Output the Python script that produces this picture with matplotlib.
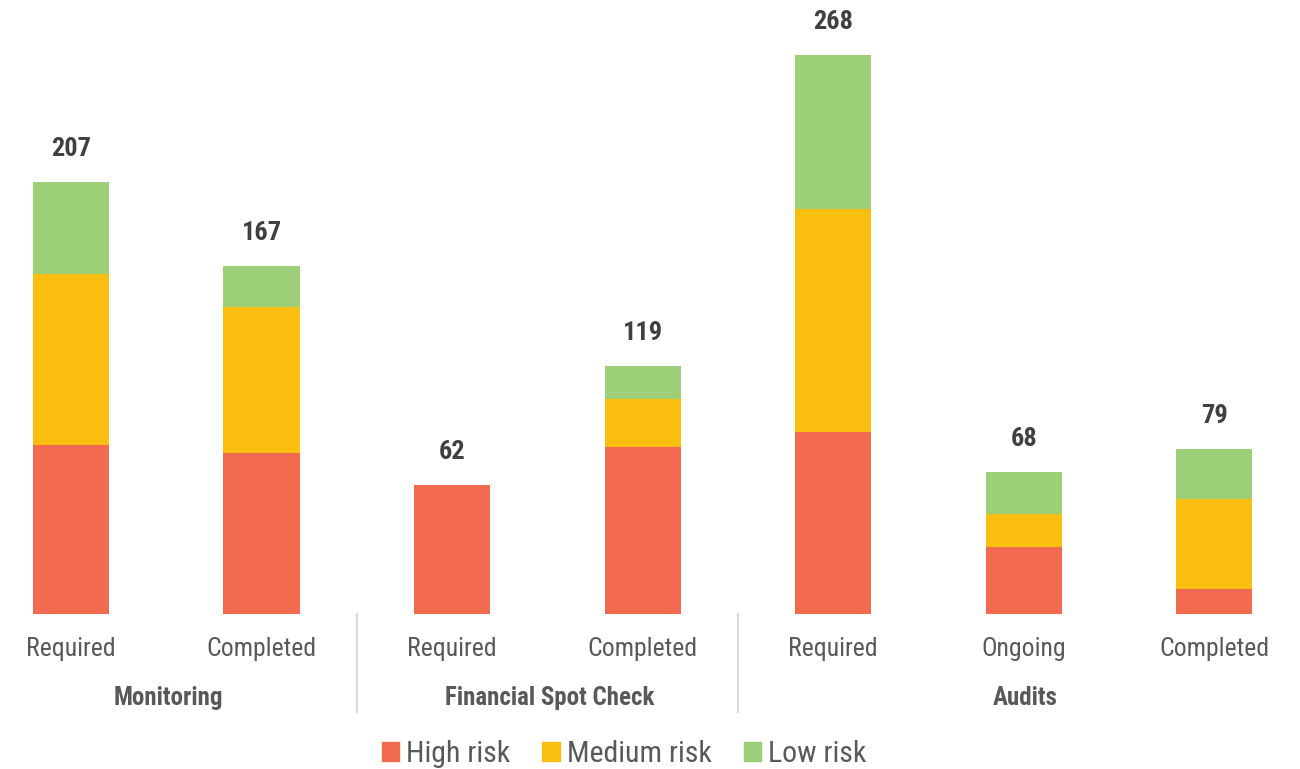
import matplotlib
matplotlib.use("Agg")
from matplotlib import pyplot as plt
from matplotlib.patches import Patch

plt.rcParams['font.family'] = ['Roboto Condensed', 'Roboto', 'DejaVu Sans']

bar_labels = ["Required", "Completed", "Required", "Completed", "Required", "Ongoing", "Completed"]
groups = ["Monitoring", "Financial Spot Check", "Audits"]
group_spans = [(0, 1), (2, 3), (4, 6)]
high = [81, 77, 62, 80, 87, 32, 12]
medium = [82, 70, 0, 23, 107, 16, 43]
low = [44, 20, 0, 16, 74, 20, 24]
totals = [207, 167, 62, 119, 268, 68, 79]

c_high = "#F26B50"
c_med = "#FBBF12"
c_low = "#9DCE78"
grey = "#595959"

fig = plt.figure(figsize=(13, 7.69), dpi=100)
ax = fig.add_axes([0, 0.2016, 1, 0.7984])

x = list(range(len(bar_labels)))
w = 0.4
bottom2 = [h + m for h, m in zip(high, medium)]
ax.bar(x, high, w, color=c_high)
ax.bar(x, medium, w, bottom=high, color=c_med)
ax.bar(x, low, w, bottom=bottom2, color=c_low)

for xi, t in zip(x, totals):
    ax.text(xi, t + 10, str(t), ha="center", va="bottom", fontsize=19,
            fontweight="bold", color="#404040")

ax.set_xlim(-0.373, 6.45)
ax.set_ylim(0, 294.3)
for s in ax.spines.values():
    s.set_visible(False)
ax.set_yticks([])
ax.set_xticks([])

for xi, lab in zip(x, bar_labels):
    ax.text(xi, -16.8, lab, ha="center", va="center", fontsize=18.5, color=grey)

for name, (a, b) in zip(groups, group_spans):
    ax.text((a + b) / 2 + 0.01, -40.3, name, ha="center", va="center", fontsize=18,
            fontweight="bold", color=grey)

for sep in [1.5, 3.5]:
    ax.plot([sep, sep], [0, -47], color="#d9d9d9", lw=1.5, clip_on=False)

handles = [Patch(color=c_high, label="High risk"),
           Patch(color=c_med, label="Medium risk"),
           Patch(color=c_low, label="Low risk")]
leg = fig.legend(handles=handles, loc="center", bbox_to_anchor=(0.48, 0.019),
                 ncol=3, frameon=False, fontsize=21.5, handlelength=0.6,
                 handleheight=0.6, handletextpad=0.22, columnspacing=1.07)
for t in leg.get_texts():
    t.set_color(grey)

fig.savefig("out.png", dpi=100)
